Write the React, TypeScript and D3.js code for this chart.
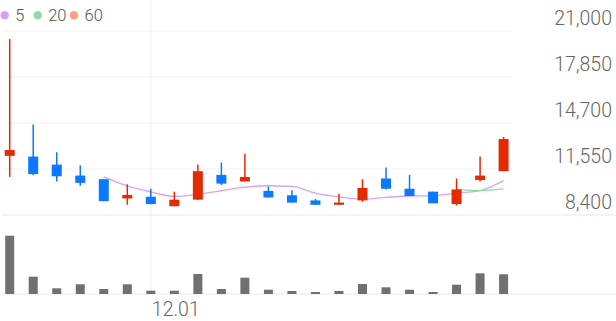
import React from "react";
import * as d3 from "d3";

const dates = [
  "11.23", "11.24", "11.27", "11.28", "11.29", "11.30", "12.01", "12.04", "12.05", "12.06", "12.07",
  "12.08", "12.11", "12.12", "12.13", "12.14", "12.15", "12.18", "12.19", "12.20", "12.21", "12.22",
];
const opens = [12450, 12400, 11850, 11100, 10850, 9530, 9650, 9000, 9450, 11150, 10700, 10050, 9750, 9400, 9100, 9400, 10900, 10200, 10000, 9150, 10800, 11400];
const highs = [20450, 14600, 12700, 11800, 10850, 10500, 10200, 10000, 11850, 12000, 12600, 10350, 10100, 9500, 9850, 10850, 11650, 11150, 10000, 10900, 12400, 13750];
const lows = [11000, 11120, 10700, 10400, 9350, 9100, 9130, 9000, 9450, 10450, 10700, 9600, 9250, 9100, 9100, 9300, 10150, 9700, 9200, 9050, 10700, 11400];
const closes = [12850, 11200, 11050, 10600, 9350, 9770, 9150, 9450, 11400, 10550, 11000, 9600, 9250, 9100, 9250, 10250, 10200, 9700, 9200, 10150, 11100, 13600];
const volumes = [5830000, 1730000, 570000, 970000, 500000, 970000, 330000, 330000, 2000000, 500000, 1630000, 430000, 300000, 200000, 300000, 1000000, 670000, 430000, 200000, 930000, 2070000, 1970000];
const yTicks = [8400, 11550, 14700, 17850, 21000];
const xTickLabels = ["12.01"];
const maPeriods = [5, 20, 60];
const maColors = ["#d9a2ef", "#93d9a4", "#f6a37d"];

const UP = "#e42a00";
const DOWN = "#0a78ff";

function movingAvg(vals: number[], n: number) {
  const out: { i: number; v: number }[] = [];
  for (let i = n - 1; i < vals.length; i++) {
    out.push({ i, v: d3.mean(vals.slice(i - n + 1, i + 1)) as number });
  }
  return out;
}

export default function App() {
  const W = 616, H = 321;
  const x = d3.scalePoint<string>().domain(dates).range([9.7, 503.6]);
  const y = d3.scaleLinear().domain([8400, 21000]).range([215, 31]);
  const yv = d3.scaleLinear().domain([0, d3.max(volumes) as number]).range([294, 235.7]);
  const fmt = d3.format(",");
  const bodyW = 10;
  const volW = 9;

  return (
    <svg width={W} height={H} style={{ position: "absolute", left: 0, top: 0, background: "#fff" }}
      fontFamily="Roboto, 'Noto Sans', sans-serif">
      {/* grid */}
      {yTicks.map((t, k) => (
        <line key={"g" + t} x1={3} x2={k === 0 ? W : 512} y1={y(t)} y2={y(t)}
          stroke={k === 0 ? "#e8e8e8" : "#f2f2f2"} strokeWidth={1.2} />
      ))}
      {xTickLabels.map((d) => (
        <line key={"v" + d} x1={x(d)} x2={x(d)} y1={0} y2={294} stroke="#f0f0f0" strokeWidth={1.2} />
      ))}
      <line x1={3} x2={W} y1={294} y2={294} stroke="#e8e8e8" strokeWidth={1.2} />

      {/* y labels */}
      {yTicks.map((t) => (
        <text key={"t" + t} x={612} y={y(t) - 6} textAnchor="end" fontSize={19.5} fontWeight={300} fill="#666">
          {fmt(t)}
        </text>
      ))}
      {xTickLabels.map((d) => (
        <text key={"xl" + d} x={(x(d) as number) + 1} y={316} fontSize={19.5} fontWeight={300} fill="#666">
          {d}
        </text>
      ))}

      {/* volume */}
      {volumes.map((v, i) => (
        <rect key={"vol" + i} x={(x(dates[i]) as number) - volW / 2} y={yv(v)} width={volW}
          height={294 - yv(v)} fill="#707070" />
      ))}

      {/* MA lines */}
      {maPeriods.map((p, k) => {
        const pts = movingAvg(closes, p);
        if (pts.length < 2) return null;
        const line = d3.line<{ i: number; v: number }>()
          .x((d) => x(dates[d.i]) as number)
          .y((d) => y(d.v))
          .curve(d3.curveMonotoneX);
        return <path key={"ma" + p} d={line(pts) || ""} fill="none" stroke={maColors[k]} strokeWidth={1.4} />;
      })}

      {/* candles */}
      {dates.map((d, i) => {
        const cx = x(d) as number;
        const up = closes[i] >= opens[i];
        const col = up ? UP : DOWN;
        const top = y(Math.max(opens[i], closes[i]));
        const bot = y(Math.min(opens[i], closes[i]));
        return (
          <g key={"c" + i}>
            <line x1={cx} x2={cx} y1={y(highs[i])} y2={y(lows[i])} stroke={col} strokeWidth={1.5} />
            <rect x={cx - bodyW / 2} y={top} width={bodyW} height={Math.max(1, bot - top)} fill={col} />
          </g>
        );
      })}

      {/* legend */}
      {maPeriods.map((p, k) => {
        const lx = [4.7, 37.7, 74][k];
        return (
          <g key={"lg" + p}>
            <circle cx={lx} cy={15.3} r={4.2} fill={maColors[k]} />
            <text x={lx + 10.5} y={21.3} fontSize={16.5} fontWeight={300} fill="#555">{p}</text>
          </g>
        );
      })}
    </svg>
  );
}
